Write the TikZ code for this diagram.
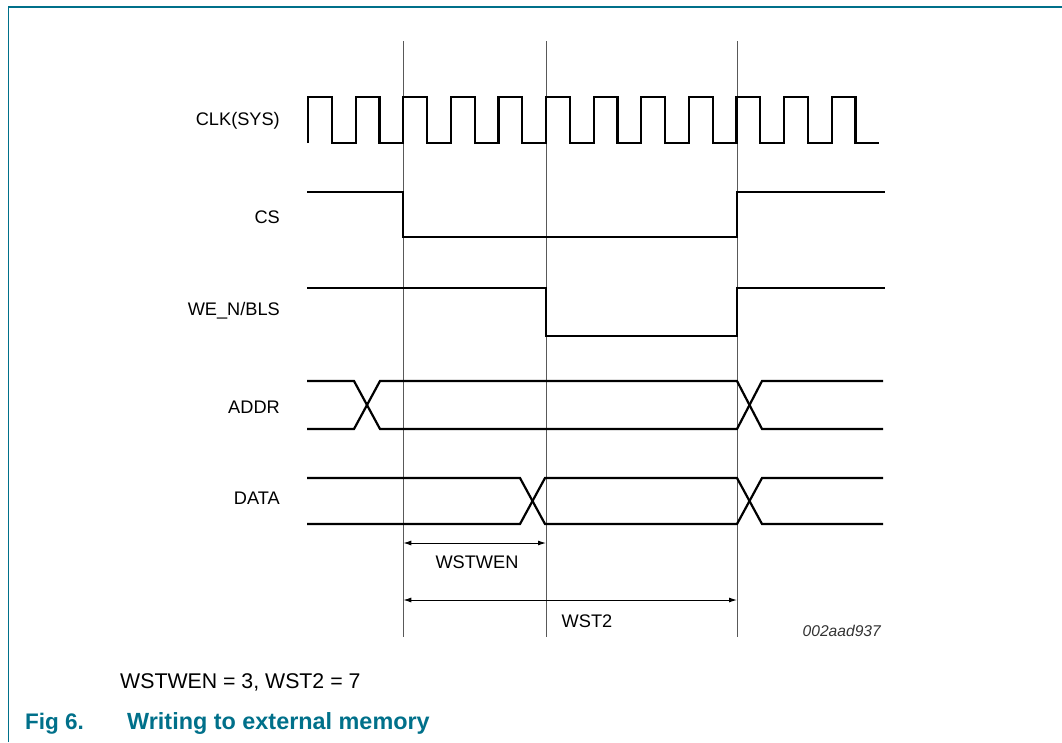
\documentclass[tikz,border=0pt]{standalone}
\usepackage{fontspec}
\setmainfont{Liberation Sans}
\usetikzlibrary{arrows.meta}
\definecolor{nxpTeal}{RGB}{0,112,138}
\begin{document}
\begin{tikzpicture}[x=1pt,y=-1pt]
\tikzset{
    tdWave/.style={line width=2.2pt,line join=miter},
    tdGuide/.style={line width=1pt,draw=black!65},
    tdDim/.style={line width=1pt,{Latex[length=8pt,width=5pt]}-{Latex[length=8pt,width=5pt]}},
    tdLabel/.style={font=\fontsize{18.2}{22}\selectfont,inner sep=0pt,anchor=base east},
    tdDimLabel/.style={font=\fontsize{18.2}{22}\selectfont,inner sep=0pt,anchor=base}
}
\useasboundingbox (0,0) rectangle (1062,742);
% frame of the figure
\draw[nxpTeal,line width=1.5pt] (8.5,742) -- (8.5,7) -- (1062,7);

% guide lines at the clock edges
\coordinate (gAtop) at (403.3,41);  \coordinate (gAbot) at (403.3,637);
\coordinate (gBtop) at (546,41);    \coordinate (gBbot) at (546,637);
\coordinate (gCtop) at (737,41);    \coordinate (gCbot) at (737,637);
\draw[tdGuide] (gAtop) -- (gAbot);
\draw[tdGuide] (gBtop) -- (gBbot);
\draw[tdGuide] (gCtop) -- (gCbot);

% signal names
\node[tdLabel] (clkLbl)  at (280,125) {CLK(SYS)};
\node[tdLabel] (csLbl)   at (280,223) {CS};
\node[tdLabel] (weLbl)   at (280,315) {WE\_N/BLS};
\node[tdLabel] (addrLbl) at (280,413) {ADDR};
\node[tdLabel] (dataLbl) at (280,504) {DATA};

% system clock, 12 periods
\draw[tdWave] (308.1,143) \foreach \k in {0,...,11} {
    -- ++(0,-46) -- ++(23.8,0) -- ++(0,46) -- ++(23.8,0)
};

% chip select
\draw[tdWave] (307,192) -- (403.3,192) -- (403.3,237) -- (737,237) -- (737,192) -- (885,192);

% write enable
\draw[tdWave] (307,288) -- (546,288) -- (546,336) -- (737,336) -- (737,288) -- (885,288);

% address bus
\draw[tdWave] (307,381) -- (354,381) -- (380,429) -- (737,429) -- (762,381) -- (883,381);
\draw[tdWave] (307,429) -- (354,429) -- (380,381) -- (737,381) -- (762,429) -- (883,429);

% data bus
\draw[tdWave] (307,478) -- (520,478) -- (545,524) -- (737,524) -- (762,478) -- (883,478);
\draw[tdWave] (307,524) -- (520,524) -- (545,478) -- (737,478) -- (762,524) -- (883,524);

% wait state widths
\coordinate (wenA) at (403.3,543); \coordinate (wenB) at (546,543);
\coordinate (wstA) at (403.3,600); \coordinate (wstB) at (737,600);
\draw[tdDim] (wenA) -- (wenB);
\draw[tdDim] (wstA) -- (wstB);
\node[tdDimLabel] (wenLbl) at (477,568) {WSTWEN};
\node[tdDimLabel] (wstLbl) at (587,627) {WST2};

\node[font=\fontsize{15.6}{18}\selectfont\itshape,text=black!80,inner sep=0pt,anchor=base east] (figId) at (881,636.5) {002aad937};

% note and caption
\node[font=\fontsize{21.3}{25}\selectfont,inner sep=0pt,anchor=base west] (note) at (120,688) {WSTWEN = 3, WST2 = 7};
\node[font=\fontsize{22.5}{27}\selectfont\bfseries,text=nxpTeal,inner sep=0pt,anchor=base west] (figNum) at (25,729) {Fig 6.};
\node[font=\fontsize{23.4}{28}\selectfont\bfseries,text=nxpTeal,inner sep=0pt,anchor=base west] (figTitle) at (127,729) {Writing to external memory};
\end{tikzpicture}
\end{document}
